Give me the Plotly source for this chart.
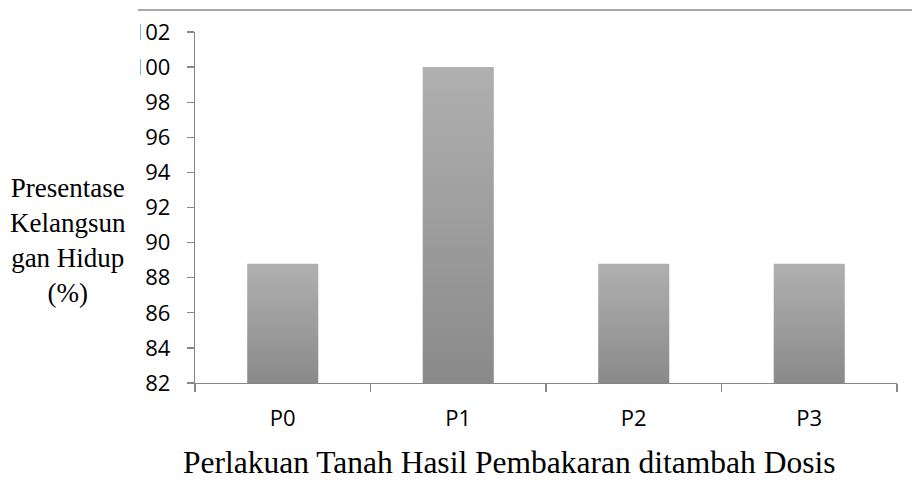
import plotly.graph_objects as go

# ---- data ----
categories = ["P0", "P1", "P2", "P3"]
values = [88.8, 100.0, 88.8, 88.8]
y_tick_values = [82, 84, 86, 88, 90, 92, 94, 96, 98, 100, 102]
y_axis_min, y_axis_max = 82, 102
y_title_lines = ["Presentase", "Kelangsun", "gan Hidup", "(%)"]
x_title = "Perlakuan Tanah Hasil Pembakaran ditambah Dosis"

# ---- layout constants (pixels) ----
W, H = 912, 481
ML, MR, MT, MB = 195, 15, 32, 98
PW, PH = W - ML - MR, H - MT - MB
BAR_W = 0.405
AXIS_COLOR = "#878787"


def fx(px):
    return (px - ML) / PW


def fy(py):
    return (H - MB - py) / PH


fig = go.Figure()
for i, (cat, val) in enumerate(zip(categories, values)):
    x0, x1 = i - BAR_W / 2, i + BAR_W / 2
    fig.add_trace(go.Scatter(
        x=[x0, x1, x1, x0, x0],
        y=[y_axis_min, y_axis_min, val, val, y_axis_min],
        fill="toself",
        mode="lines",
        line=dict(width=0, color="rgba(0,0,0,0)"),
        fillgradient=dict(type="vertical",
                          colorscale=[[0, "#8a8a8a"], [1, "#b0b0b0"]]),
        name=cat,
        hoverinfo="skip",
        showlegend=False,
    ))

fig.update_layout(
    width=W, height=H,
    margin=dict(l=ML, r=MR, t=MT, b=MB),
    paper_bgcolor="white", plot_bgcolor="white",
    showlegend=False,
    font=dict(family="Open Sans", size=22, color="#000000"),
)

fig.update_xaxes(
    type="linear",
    range=[-0.5, len(categories) - 0.5],
    tickmode="array",
    tickvals=list(range(len(categories))),
    ticktext=categories,
    ticks="",
    showline=True, linecolor=AXIS_COLOR, linewidth=1.3,
    showgrid=False, zeroline=False,
    ticklabelstandoff=15,
    tickfont=dict(family="Open Sans", size=22, color="#000000"),
    minor=dict(tickmode="array",
               tickvals=[i - 0.5 for i in range(len(categories) + 1)],
               ticks="outside", ticklen=8, tickwidth=1.3,
               tickcolor=AXIS_COLOR, showgrid=False),
    fixedrange=True,
)
fig.update_yaxes(
    range=[y_axis_min, y_axis_max],
    tickmode="array", tickvals=y_tick_values,
    ticks="outside", ticklen=7, tickwidth=1.3, tickcolor=AXIS_COLOR,
    showline=True, linecolor=AXIS_COLOR, linewidth=1.3,
    showgrid=False, zeroline=False,
    ticklabelstandoff=12,
    tickfont=dict(family="Open Sans", size=22, color="#000000"),
    fixedrange=True,
)

# top border line
fig.add_shape(type="line", xref="paper", yref="paper",
              x0=fx(138), x1=fx(912), y0=fy(10), y1=fy(10),
              line=dict(color="#8c8c8c", width=1.5))
# clipping of the top-left tick labels
fig.add_shape(type="rect", xref="paper", yref="paper", layer="above",
              x0=fx(0), x1=fx(140), y0=fy(15), y1=fy(90),
              fillcolor="white", line=dict(width=0))

fig.add_annotation(
    text="<br>".join(y_title_lines),
    xref="paper", yref="paper", x=fx(68), y=fy(240),
    xanchor="center", yanchor="middle", showarrow=False, align="center",
    font=dict(family="Liberation Serif", size=27, color="#000000"),
)
fig.add_annotation(
    text=x_title,
    xref="paper", yref="paper", x=fx(509), y=fy(443),
    xanchor="center", yanchor="top", showarrow=False,
    font=dict(family="Liberation Serif", size=31.5, color="#000000"),
)

fig.write_html(
    "out.html",
    config={"displayModeBar": False, "staticPlot": True},
    post_script="document.body.style.margin='0px';document.body.style.overflow='hidden';",
)
